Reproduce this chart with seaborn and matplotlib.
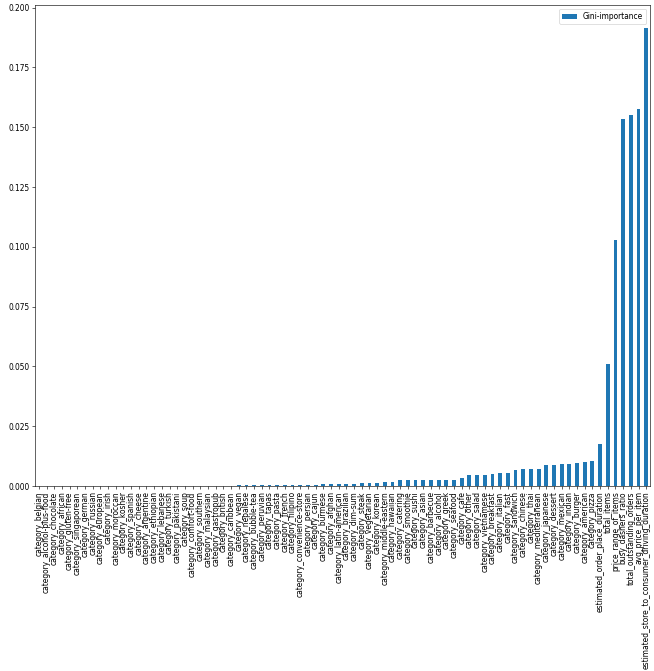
import pandas as pd
import matplotlib
matplotlib.use('Agg')
import matplotlib.pyplot as plt
import seaborn as sns


#Feature names in plotted order
features = [
    'category_belgian', 'category_alcohol-plus-food', 'category_chocolate', 'category_african',
    'category_gluten-free', 'category_singaporean', 'category_german', 'category_russian',
    'category_european', 'category_irish', 'category_moroccan', 'category_kosher',
    'category_spanish', 'category_cheese', 'category_argentine', 'category_ethiopian',
    'category_lebanese', 'category_turkish', 'category_pakistani', 'category_soup',
    'category_comfort-food', 'category_southern', 'category_malaysian', 'category_gastropub',
    'category_british', 'category_caribbean', 'category_vegan', 'category_nepalese',
    'category_bubble-tea', 'category_peruvian', 'category_tapas', 'category_pasta',
    'category_french', 'category_filipino', 'category_convenience-store', 'category_persian',
    'category_cajun', 'category_burmese', 'category_afghan', 'category_latin-american',
    'category_brazilian', 'category_dim-sum', 'category_steak', 'category_vegetarian',
    'category_korean', 'category_middle-eastern', 'category_hawaiian', 'category_catering',
    'category_smoothie', 'category_sushi', 'category_asian', 'category_barbecue',
    'category_alcohol', 'category_greek', 'category_seafood', 'category_cafe',
    'category_other', 'category_salad', 'category_vietnamese', 'category_breakfast',
    'category_italian', 'category_fast', 'category_sandwich', 'category_chinese',
    'category_thai', 'category_mediterranean', 'category_japanese', 'category_dessert',
    'category_mexican', 'category_indian', 'category_burger', 'category_american',
    'category_pizza', 'estimated_order_place_duration', 'total_items', 'price_range_of_items',
    'busy_dashers_ratio', 'total_outstanding_orders', 'avg_price_per_item',
    'estimated_store_to_consumer_driving_duration',
]

#Gini importance values
gini = [
    0.0, 0.0, 0.0, 0.0, 0.0, 0.0, 0.0, 0.0, 0.0, 0.0,
    0.0, 0.0, 0.0, 0.0, 0.0, 0.0, 0.0, 0.0, 0.0, 0.00005,
    0.0002, 0.0002, 0.0002, 0.0002, 0.0002, 0.0002, 0.0004, 0.0004, 0.0005, 0.0005,
    0.0005, 0.0005, 0.0005, 0.00056, 0.00056, 0.00056, 0.00056, 0.00084, 0.00084, 0.00084,
    0.00084, 0.00084, 0.0011, 0.0011, 0.0014, 0.0018, 0.0018, 0.0024, 0.0024, 0.0024,
    0.0024, 0.0026, 0.0026, 0.0026, 0.0026, 0.0033, 0.0046, 0.0046, 0.0046, 0.0049,
    0.0053, 0.0053, 0.0068, 0.0071, 0.0071, 0.0071, 0.0087, 0.0087, 0.0091, 0.0091,
    0.0095, 0.0099, 0.0105, 0.0176, 0.0510, 0.1029, 0.1536, 0.1552, 0.1575, 0.1915,
]

df = pd.DataFrame({'feature': features, 'Gini-importance': gini})

#Define the Figure
DPI = 54
fig = plt.figure(figsize=(654 / DPI, 671 / DPI), dpi=DPI)
ax = fig.add_axes([0.0535, 0.2757, 0.9405, 0.7168])

sns.barplot(data=df, x='feature', y='Gini-importance', color='#1f77b4',
            saturation=1, width=0.5, label='Gini-importance', ax=ax)

ax.set_xlabel('')
ax.set_ylabel('')
ax.set_xlim(-0.5, len(features) - 0.5)
ax.set_ylim(0, max(gini) * 1.05)
ax.tick_params(axis='x', rotation=90)
ax.legend(loc='upper right')

fig.savefig('out.png', dpi=DPI)
